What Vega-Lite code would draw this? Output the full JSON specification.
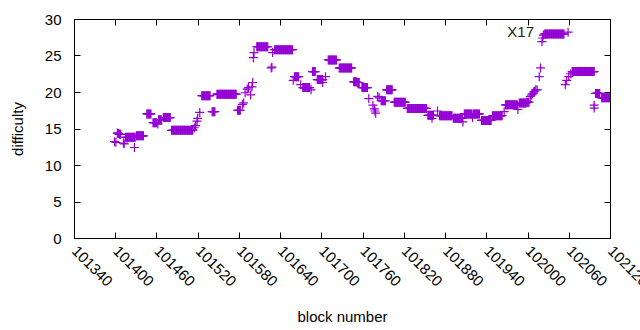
{
  "$schema": "https://vega.github.io/schema/vega-lite/v6.json",
  "width": 536,
  "height": 219,
  "autosize": {"type": "none"},
  "padding": {"left": 74, "top": 19, "right": 30, "bottom": 92},
  "background": "white",
  "config": {
    "view": {"stroke": "black", "strokeWidth": 1},
    "font": "Liberation Sans",
    "axis": {
      "grid": false,
      "domain": false,
      "tickColor": "black",
      "tickSize": -6,
      "tickWidth": 1,
      "labelColor": "black",
      "labelFont": "Liberation Sans",
      "labelFontSize": 15,
      "titleFont": "Liberation Sans",
      "titleFontSize": 15,
      "titleFontWeight": "normal",
      "titleColor": "black"
    }
  },
  "datasets": {
    "pts": [
      {"b":101399,"d":13.2},{"b":101401,"d":13.1},
      {"b":101403,"d":14.4},{"b":101404,"d":14.3},{"b":101405,"d":14.3},{"b":101406,"d":14.2},{"b":101407,"d":14.2},{"b":101408,"d":14.2},
      {"b":101412,"d":13.0},{"b":101413,"d":12.9},
      {"b":101415,"d":13.8},{"b":101416,"d":13.8},{"b":101417,"d":13.8},{"b":101418,"d":13.8},{"b":101419,"d":13.8},{"b":101420,"d":13.8},{"b":101421,"d":13.8},{"b":101422,"d":13.8},{"b":101423,"d":13.8},{"b":101424,"d":13.8},{"b":101425,"d":13.8},{"b":101426,"d":13.8},{"b":101427,"d":13.8},{"b":101428,"d":13.8},{"b":101429,"d":13.8},
      {"b":101428,"d":12.4},
      {"b":101431,"d":14.0},{"b":101432,"d":14.0},{"b":101433,"d":14.0},{"b":101434,"d":14.0},{"b":101435,"d":14.0},{"b":101436,"d":14.0},{"b":101437,"d":14.0},{"b":101438,"d":14.0},{"b":101439,"d":14.0},{"b":101440,"d":14.0},{"b":101441,"d":14.0},
      {"b":101446,"d":17.0},{"b":101447,"d":17.0},{"b":101448,"d":17.0},{"b":101449,"d":17.0},{"b":101450,"d":17.0},{"b":101451,"d":17.0},{"b":101452,"d":17.0},
      {"b":101455,"d":15.8},{"b":101456,"d":15.8},{"b":101457,"d":15.8},{"b":101458,"d":15.8},{"b":101459,"d":15.8},{"b":101460,"d":15.8},{"b":101462,"d":15.6},
      {"b":101463,"d":16.2},{"b":101464,"d":16.2},{"b":101465,"d":16.2},{"b":101466,"d":16.2},{"b":101467,"d":16.2},
      {"b":101470,"d":16.5},{"b":101471,"d":16.5},{"b":101472,"d":16.5},{"b":101473,"d":16.5},{"b":101474,"d":16.5},{"b":101475,"d":16.5},{"b":101476,"d":16.5},{"b":101477,"d":16.5},{"b":101478,"d":16.5},{"b":101479,"d":16.5},{"b":101480,"d":16.5},
      {"b":101482,"d":14.75},{"b":101483,"d":14.75},{"b":101484,"d":14.75},{"b":101485,"d":14.75},{"b":101486,"d":14.75},{"b":101487,"d":14.75},{"b":101488,"d":14.75},{"b":101489,"d":14.75},{"b":101490,"d":14.75},{"b":101491,"d":14.75},{"b":101492,"d":14.75},{"b":101493,"d":14.75},{"b":101494,"d":14.75},{"b":101495,"d":14.75},{"b":101496,"d":14.75},{"b":101497,"d":14.75},{"b":101498,"d":14.75},{"b":101499,"d":14.75},{"b":101500,"d":14.75},{"b":101501,"d":14.75},{"b":101502,"d":14.75},{"b":101503,"d":14.75},{"b":101504,"d":14.75},{"b":101505,"d":14.75},{"b":101506,"d":14.75},{"b":101507,"d":14.75},{"b":101508,"d":14.75},{"b":101509,"d":14.75},{"b":101510,"d":14.75},{"b":101511,"d":14.75},{"b":101512,"d":14.75},{"b":101513,"d":14.8},
      {"b":101515,"d":15.1},{"b":101517,"d":15.4},{"b":101519,"d":16.0},{"b":101520,"d":16.4},{"b":101523,"d":17.2},
      {"b":101526,"d":19.5},{"b":101527,"d":19.5},{"b":101528,"d":19.5},{"b":101529,"d":19.5},{"b":101530,"d":19.5},{"b":101531,"d":19.5},{"b":101532,"d":19.5},{"b":101533,"d":19.5},{"b":101534,"d":19.5},{"b":101535,"d":19.5},{"b":101536,"d":19.5},{"b":101537,"d":19.5},{"b":101538,"d":19.5},
      {"b":101541,"d":17.3},{"b":101542,"d":17.3},{"b":101543,"d":17.3},{"b":101544,"d":17.3},{"b":101545,"d":17.3},
      {"b":101548,"d":19.7},{"b":101549,"d":19.7},{"b":101550,"d":19.7},{"b":101551,"d":19.7},{"b":101552,"d":19.7},{"b":101553,"d":19.7},{"b":101554,"d":19.7},{"b":101555,"d":19.7},{"b":101556,"d":19.7},{"b":101557,"d":19.7},{"b":101558,"d":19.7},{"b":101559,"d":19.7},{"b":101560,"d":19.7},{"b":101561,"d":19.7},{"b":101562,"d":19.7},{"b":101563,"d":19.7},{"b":101564,"d":19.7},{"b":101565,"d":19.7},{"b":101566,"d":19.7},{"b":101567,"d":19.7},{"b":101568,"d":19.7},{"b":101569,"d":19.7},{"b":101570,"d":19.7},{"b":101571,"d":19.7},{"b":101572,"d":19.7},{"b":101573,"d":19.7},{"b":101574,"d":19.7},{"b":101575,"d":19.7},{"b":101576,"d":19.7},
      {"b":101578,"d":17.5},{"b":101579,"d":17.5},{"b":101580,"d":17.5},{"b":101581,"d":17.5},{"b":101582,"d":17.5},
      {"b":101585,"d":18.3},{"b":101587,"d":18.5},
      {"b":101589,"d":19.9},{"b":101592,"d":20.4},{"b":101594,"d":20.6},
      {"b":101597,"d":19.6},{"b":101599,"d":20.7},{"b":101600,"d":21.3},
      {"b":101601,"d":24.7},{"b":101602,"d":25.4},
      {"b":101606,"d":26.2},{"b":101607,"d":26.2},{"b":101608,"d":26.2},{"b":101609,"d":26.2},{"b":101610,"d":26.2},{"b":101611,"d":26.2},{"b":101612,"d":26.2},{"b":101613,"d":26.2},{"b":101614,"d":26.2},{"b":101615,"d":26.2},{"b":101616,"d":26.2},{"b":101617,"d":26.2},{"b":101618,"d":26.2},{"b":101619,"d":26.2},{"b":101620,"d":26.2},{"b":101621,"d":26.2},{"b":101622,"d":26.2},
      {"b":101627,"d":23.3},{"b":101628,"d":23.4},
      {"b":101629,"d":25.4},
      {"b":101632,"d":25.8},{"b":101633,"d":25.8},{"b":101634,"d":25.8},{"b":101635,"d":25.8},{"b":101636,"d":25.8},{"b":101637,"d":25.8},{"b":101638,"d":25.8},{"b":101639,"d":25.8},{"b":101640,"d":25.8},{"b":101641,"d":25.8},{"b":101642,"d":25.8},{"b":101643,"d":25.8},{"b":101644,"d":25.8},{"b":101645,"d":25.8},{"b":101646,"d":25.8},{"b":101647,"d":25.8},{"b":101648,"d":25.8},{"b":101649,"d":25.8},{"b":101650,"d":25.8},{"b":101651,"d":25.8},{"b":101652,"d":25.8},{"b":101653,"d":25.8},{"b":101654,"d":25.8},{"b":101655,"d":25.8},{"b":101656,"d":25.8},{"b":101657,"d":25.8},{"b":101658,"d":25.8},
      {"b":101659,"d":21.6},{"b":101661,"d":22.1},{"b":101662,"d":22.1},{"b":101663,"d":22.1},{"b":101664,"d":22.1},{"b":101665,"d":22.1},{"b":101666,"d":22.1},{"b":101667,"d":22.1},
      {"b":101670,"d":21.0},{"b":101673,"d":20.6},{"b":101674,"d":20.6},{"b":101675,"d":20.6},{"b":101676,"d":20.6},{"b":101677,"d":20.6},{"b":101678,"d":20.6},{"b":101679,"d":20.6},{"b":101680,"d":20.6},{"b":101681,"d":20.6},{"b":101682,"d":20.6},{"b":101683,"d":20.6},{"b":101685,"d":20.3},
      {"b":101687,"d":22.8},{"b":101688,"d":22.8},{"b":101689,"d":22.8},{"b":101690,"d":22.8},{"b":101691,"d":22.8},
      {"b":101694,"d":21.7},{"b":101695,"d":21.7},{"b":101696,"d":21.7},{"b":101697,"d":21.7},{"b":101698,"d":21.7},{"b":101699,"d":21.7},{"b":101700,"d":21.7},{"b":101701,"d":21.7},{"b":101702,"d":21.7},{"b":101702,"d":21.3},{"b":101706,"d":22.1},
      {"b":101710,"d":24.4},{"b":101711,"d":24.4},{"b":101712,"d":24.4},{"b":101713,"d":24.4},{"b":101714,"d":24.4},{"b":101715,"d":24.4},{"b":101716,"d":24.4},{"b":101717,"d":24.4},{"b":101718,"d":24.4},{"b":101719,"d":24.4},{"b":101720,"d":24.4},{"b":101721,"d":24.4},{"b":101722,"d":24.4},
      {"b":101726,"d":23.3},{"b":101727,"d":23.3},{"b":101728,"d":23.3},{"b":101729,"d":23.3},{"b":101730,"d":23.3},{"b":101731,"d":23.3},{"b":101732,"d":23.3},{"b":101733,"d":23.3},{"b":101734,"d":23.3},{"b":101735,"d":23.3},{"b":101736,"d":23.3},{"b":101737,"d":23.3},{"b":101738,"d":23.3},{"b":101739,"d":23.3},{"b":101740,"d":23.3},{"b":101741,"d":23.3},{"b":101742,"d":23.3},{"b":101743,"d":23.3},{"b":101744,"d":23.3},
      {"b":101747,"d":21.4},{"b":101748,"d":21.4},{"b":101749,"d":21.4},{"b":101750,"d":21.4},{"b":101751,"d":21.4},{"b":101752,"d":21.3},{"b":101753,"d":21.3},{"b":101754,"d":21.3},{"b":101755,"d":21.3},
      {"b":101759,"d":20.6},{"b":101760,"d":20.6},{"b":101761,"d":20.6},{"b":101762,"d":20.6},{"b":101763,"d":20.6},{"b":101764,"d":20.6},{"b":101765,"d":20.6},{"b":101766,"d":20.6},{"b":101767,"d":20.6},
      {"b":101769,"d":19.1},{"b":101775,"d":18.2},{"b":101777,"d":17.7},{"b":101778,"d":17.4},{"b":101779,"d":17.1},
      {"b":101782,"d":19.4},{"b":101784,"d":19.2},
      {"b":101787,"d":18.8},{"b":101788,"d":18.8},{"b":101789,"d":18.8},{"b":101790,"d":18.8},{"b":101791,"d":18.8},{"b":101792,"d":18.8},{"b":101793,"d":18.8},
      {"b":101795,"d":20.3},{"b":101796,"d":20.3},{"b":101797,"d":20.3},{"b":101798,"d":20.3},{"b":101799,"d":20.3},{"b":101800,"d":20.3},{"b":101801,"d":20.3},{"b":101802,"d":20.3},{"b":101803,"d":20.3},
      {"b":101806,"d":18.6},{"b":101807,"d":18.6},{"b":101808,"d":18.6},{"b":101809,"d":18.6},{"b":101810,"d":18.6},{"b":101811,"d":18.6},{"b":101812,"d":18.6},{"b":101813,"d":18.6},{"b":101814,"d":18.6},{"b":101815,"d":18.6},{"b":101816,"d":18.6},{"b":101817,"d":18.6},{"b":101818,"d":18.6},{"b":101819,"d":18.6},{"b":101820,"d":18.6},{"b":101821,"d":18.6},{"b":101822,"d":18.6},
      {"b":101825,"d":17.75},{"b":101826,"d":17.75},{"b":101827,"d":17.75},{"b":101828,"d":17.75},{"b":101829,"d":17.75},{"b":101830,"d":17.75},{"b":101831,"d":17.75},{"b":101832,"d":17.75},{"b":101833,"d":17.75},{"b":101834,"d":17.75},{"b":101835,"d":17.75},{"b":101836,"d":17.75},{"b":101837,"d":17.75},{"b":101838,"d":17.75},{"b":101839,"d":17.75},{"b":101840,"d":17.75},{"b":101841,"d":17.75},{"b":101842,"d":17.75},{"b":101843,"d":17.75},{"b":101844,"d":17.75},{"b":101845,"d":17.75},{"b":101846,"d":17.75},{"b":101847,"d":17.75},{"b":101848,"d":17.75},{"b":101849,"d":17.75},{"b":101850,"d":17.75},{"b":101851,"d":17.75},{"b":101852,"d":17.75},{"b":101853,"d":17.75},
      {"b":101855,"d":16.8},{"b":101856,"d":16.8},{"b":101857,"d":16.8},{"b":101858,"d":16.8},{"b":101859,"d":16.8},{"b":101860,"d":16.8},{"b":101861,"d":16.8},{"b":101862,"d":16.8},{"b":101863,"d":16.8},{"b":101861,"d":16.4},
      {"b":101869,"d":17.4},
      {"b":101872,"d":16.75},{"b":101873,"d":16.75},{"b":101874,"d":16.75},{"b":101875,"d":16.75},{"b":101876,"d":16.75},{"b":101877,"d":16.75},{"b":101878,"d":16.75},{"b":101879,"d":16.75},{"b":101880,"d":16.75},{"b":101881,"d":16.75},{"b":101882,"d":16.75},{"b":101883,"d":16.75},{"b":101884,"d":16.75},{"b":101885,"d":16.75},{"b":101886,"d":16.75},{"b":101887,"d":16.75},{"b":101888,"d":16.75},{"b":101889,"d":16.75},{"b":101890,"d":16.75},
      {"b":101892,"d":16.4},{"b":101893,"d":16.4},{"b":101894,"d":16.4},{"b":101895,"d":16.4},{"b":101896,"d":16.4},{"b":101897,"d":16.4},{"b":101898,"d":16.4},{"b":101899,"d":16.4},{"b":101900,"d":16.4},{"b":101901,"d":16.4},{"b":101902,"d":16.4},{"b":101903,"d":16.4},{"b":101904,"d":16.4},{"b":101905,"d":16.4},{"b":101906,"d":15.9},
      {"b":101908,"d":17.0},{"b":101909,"d":17.0},{"b":101910,"d":17.0},{"b":101911,"d":17.0},{"b":101912,"d":17.0},{"b":101913,"d":17.0},{"b":101914,"d":17.0},{"b":101915,"d":17.0},{"b":101916,"d":17.0},{"b":101917,"d":17.0},{"b":101918,"d":17.0},{"b":101919,"d":17.0},{"b":101920,"d":16.5},{"b":101921,"d":17.0},{"b":101922,"d":17.0},{"b":101923,"d":17.0},{"b":101924,"d":17.0},{"b":101925,"d":17.0},{"b":101926,"d":17.0},{"b":101927,"d":17.0},{"b":101928,"d":17.0},{"b":101929,"d":17.0},{"b":101930,"d":17.0},
      {"b":101933,"d":16.1},{"b":101934,"d":16.1},{"b":101935,"d":16.1},{"b":101936,"d":16.1},{"b":101937,"d":16.1},{"b":101938,"d":16.1},{"b":101939,"d":16.1},{"b":101940,"d":16.1},{"b":101941,"d":16.1},{"b":101942,"d":16.1},{"b":101943,"d":16.1},{"b":101944,"d":16.1},{"b":101945,"d":16.1},{"b":101946,"d":16.1},{"b":101947,"d":16.1},
      {"b":101949,"d":16.75},{"b":101950,"d":16.75},{"b":101951,"d":16.75},{"b":101952,"d":16.75},{"b":101953,"d":16.75},{"b":101954,"d":16.75},{"b":101955,"d":16.75},{"b":101956,"d":16.75},{"b":101957,"d":16.75},{"b":101958,"d":16.75},{"b":101959,"d":16.75},{"b":101960,"d":16.75},{"b":101961,"d":16.75},{"b":101962,"d":16.75},{"b":101963,"d":16.75},{"b":101966,"d":17.3},
      {"b":101968,"d":18.25},{"b":101969,"d":18.25},{"b":101970,"d":18.25},{"b":101971,"d":18.25},{"b":101972,"d":18.25},{"b":101973,"d":18.25},{"b":101974,"d":18.25},{"b":101975,"d":18.25},{"b":101976,"d":18.25},{"b":101977,"d":18.25},{"b":101978,"d":18.25},{"b":101979,"d":18.25},{"b":101980,"d":18.25},{"b":101981,"d":18.25},{"b":101982,"d":18.25},{"b":101983,"d":18.25},{"b":101984,"d":18.25},{"b":101985,"d":18.25},{"b":101986,"d":17.6},
      {"b":101988,"d":18.5},{"b":101989,"d":18.5},{"b":101990,"d":18.5},{"b":101991,"d":18.5},{"b":101992,"d":18.5},{"b":101993,"d":18.5},{"b":101994,"d":18.5},{"b":101995,"d":18.5},{"b":101996,"d":18.5},{"b":101997,"d":18.5},{"b":101998,"d":18.5},{"b":101999,"d":18.6},{"b":102000,"d":18.6},{"b":102001,"d":18.6},{"b":102002,"d":18.6},
      {"b":102004,"d":19.4},{"b":102006,"d":19.6},{"b":102007,"d":19.75},{"b":102009,"d":20.0},{"b":102010,"d":20.1},{"b":102012,"d":20.3},{"b":102014,"d":20.3},
      {"b":102017,"d":22.1},{"b":102019,"d":23.3},
      {"b":102021,"d":26.9},{"b":102022,"d":27.4},{"b":102023,"d":27.8},
      {"b":102025,"d":27.95},{"b":102026,"d":27.95},{"b":102027,"d":27.95},{"b":102028,"d":27.95},{"b":102029,"d":27.95},{"b":102030,"d":27.95},{"b":102031,"d":27.95},{"b":102032,"d":27.95},{"b":102033,"d":27.95},{"b":102034,"d":27.95},{"b":102035,"d":27.95},{"b":102036,"d":27.95},{"b":102037,"d":27.95},{"b":102038,"d":27.95},{"b":102039,"d":27.95},{"b":102040,"d":27.95},{"b":102041,"d":27.95},{"b":102042,"d":27.95},{"b":102043,"d":27.95},{"b":102044,"d":27.95},{"b":102045,"d":27.95},{"b":102046,"d":27.95},{"b":102047,"d":27.95},{"b":102048,"d":27.95},{"b":102049,"d":27.95},{"b":102050,"d":27.95},{"b":102051,"d":27.95},{"b":102052,"d":27.95},{"b":102053,"d":27.95},
      {"b":102059,"d":28.2},
      {"b":102055,"d":21.0},{"b":102057,"d":21.6},{"b":102060,"d":22.1},{"b":102063,"d":22.5},
      {"b":102065,"d":22.8},{"b":102066,"d":22.8},{"b":102067,"d":22.8},{"b":102068,"d":22.8},{"b":102069,"d":22.8},{"b":102070,"d":22.8},{"b":102071,"d":22.8},{"b":102072,"d":22.8},{"b":102073,"d":22.8},{"b":102074,"d":22.8},{"b":102075,"d":22.8},{"b":102076,"d":22.8},{"b":102077,"d":22.8},{"b":102078,"d":22.8},{"b":102079,"d":22.8},{"b":102080,"d":22.8},{"b":102081,"d":22.8},{"b":102082,"d":22.8},{"b":102083,"d":22.8},{"b":102084,"d":22.8},{"b":102085,"d":22.8},{"b":102086,"d":22.8},{"b":102087,"d":22.8},{"b":102088,"d":22.8},{"b":102089,"d":22.8},{"b":102090,"d":22.8},{"b":102091,"d":22.8},{"b":102092,"d":22.8},{"b":102093,"d":22.8},{"b":102094,"d":22.8},{"b":102095,"d":22.8},{"b":102096,"d":22.8},{"b":102097,"d":22.8},
      {"b":102097,"d":18.2},{"b":102097,"d":17.8},
      {"b":102099,"d":19.8},{"b":102100,"d":19.8},{"b":102101,"d":19.8},{"b":102102,"d":19.8},{"b":102103,"d":19.8},{"b":102104,"d":19.8},{"b":102105,"d":19.8},
      {"b":102108,"d":19.2},{"b":102109,"d":19.2},{"b":102110,"d":19.2},{"b":102111,"d":19.2},{"b":102112,"d":19.2},{"b":102113,"d":19.2},{"b":102114,"d":19.2},{"b":102115,"d":19.2},{"b":102116,"d":19.2},{"b":102117,"d":19.2},{"b":102118,"d":19.2},{"b":102119,"d":19.2},{"b":102120,"d":19.2}
    ],
    "lab": [{"b": 101990, "d": 28.2, "label": "X17"}]
  },
  "layer": [
    {
      "data": {"name": "pts"},
      "mark": {"type": "point", "shape": "M-1,0L1,0M0,-1L0,1", "size": 81, "filled": false, "color": "#9400D3", "strokeWidth": 1.2, "opacity": 1, "clip": true},
      "encoding": {
        "x": {
          "field": "b", "type": "quantitative",
          "scale": {"domain": [101340, 102120], "nice": false, "zero": false},
          "axis": {
            "orient": "bottom",
            "title": "block number",
            "values": [101340,101400,101460,101520,101580,101640,101700,101760,101820,101880,101940,102000,102060,102120],
            "format": "d",
            "labelAngle": 45,
            "labelAlign": "left",
            "labelBaseline": "middle",
            "labelPadding": 16,
            "labelOverlap": false,
            "labelFlush": false,
            "titlePadding": 20
          }
        },
        "y": {
          "field": "d", "type": "quantitative",
          "scale": {"domain": [0, 30], "nice": false},
          "axis": {
            "orient": "left",
            "title": "difficulty",
            "values": [0,5,10,15,20,25,30],
            "labelPadding": 19,
            "titlePadding": 19
          }
        }
      }
    },
    {
      "data": {"name": "lab"},
      "mark": {"type": "text", "align": "center", "baseline": "middle", "font": "Liberation Sans", "fontSize": 15, "color": "#222222"},
      "encoding": {
        "x": {
          "field": "b", "type": "quantitative",
          "scale": {"domain": [101340, 102120], "nice": false, "zero": false},
          "axis": {"orient": "top", "title": null, "labels": false,
            "values": [101340,101400,101460,101520,101580,101640,101700,101760,101820,101880,101940,102000,102060,102120]}
        },
        "y": {
          "field": "d", "type": "quantitative",
          "scale": {"domain": [0, 30], "nice": false},
          "axis": {"orient": "right", "title": null, "labels": false, "values": [0,5,10,15,20,25,30]}
        },
        "text": {"field": "label"}
      }
    }
  ],
  "resolve": {"axis": {"x": "independent", "y": "independent"}}
}
